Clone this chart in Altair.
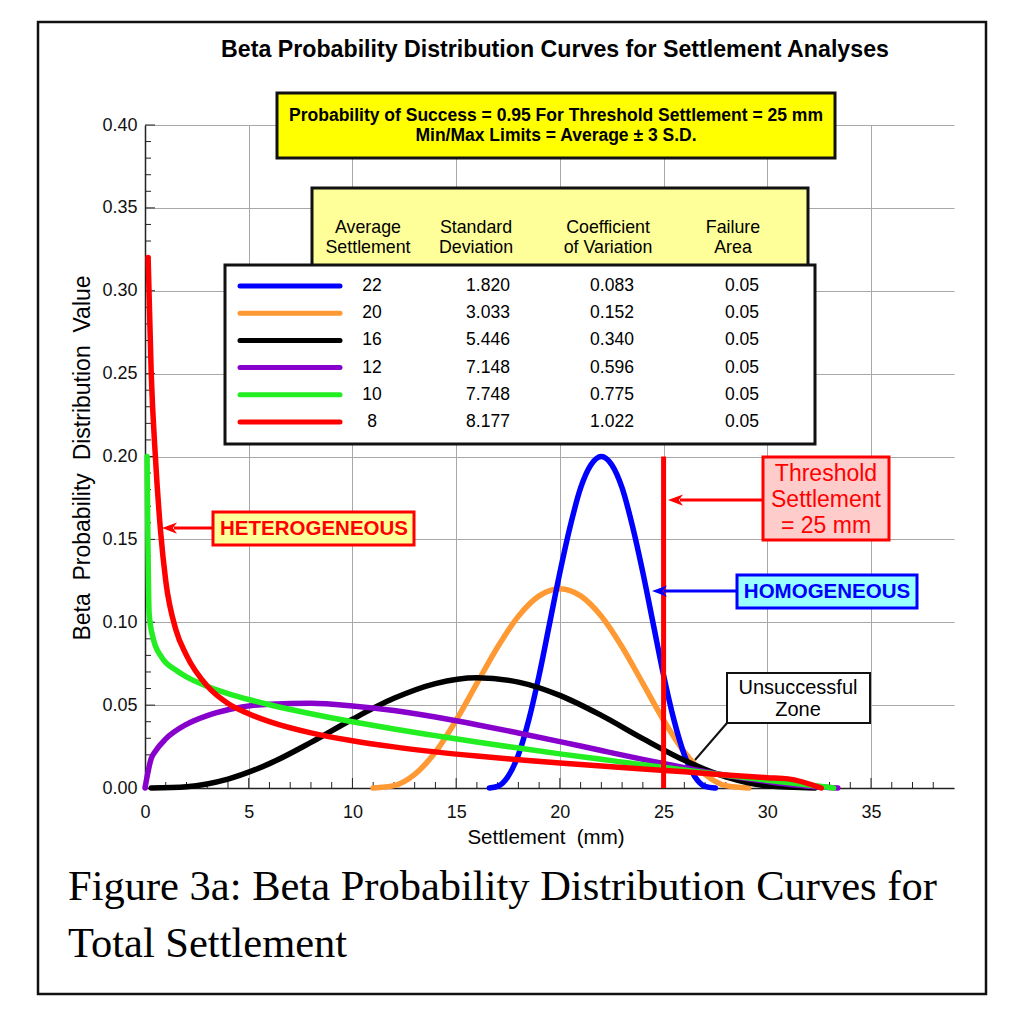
import altair as alt
import pandas as pd

# ---------------- data ----------------
AVG_LABELS = ["22", "20", "16", "12", "10", "8"]
SD_LABELS = ["1.820", "3.033", "5.446", "7.148", "7.748", "8.177"]
COV_LABELS = ["0.083", "0.152", "0.340", "0.596", "0.775", "1.022"]
FAIL_LABELS = ["0.05", "0.05", "0.05", "0.05", "0.05", "0.05"]
SERIES_COLORS = ["#0000FF", "#FF9933", "#000000", "#8800CC", "#22EE22", "#FF0000"]

blue_x = [16.6, 17.0, 17.5, 18.0, 18.5, 19.0, 19.5, 20.0, 20.5, 21.0, 21.5, 22.0,
          22.5, 23.0, 23.5, 24.0, 24.5, 25.0, 25.5, 26.0, 26.5, 27.0, 27.5]
blue_y = [0.000, 0.001, 0.007, 0.020, 0.041, 0.068, 0.099, 0.130, 0.158, 0.181, 0.195, 0.200,
          0.195, 0.181, 0.158, 0.130, 0.099, 0.068, 0.041, 0.020, 0.007, 0.001, 0.000]

orange_x = [11.0, 12, 13, 14, 15, 16, 17, 18, 19, 20, 21, 22, 23, 24, 25, 26, 27, 28, 29.1]
orange_y = [0.000, 0.0014, 0.0082, 0.0217, 0.0409, 0.0631, 0.0851, 0.1036, 0.1159, 0.1202,
            0.1159, 0.1036, 0.0851, 0.0631, 0.0409, 0.0217, 0.0082, 0.0014, 0.000]

black_x = [0.3, 2, 4, 6, 8, 10, 12, 14, 16, 18, 20, 22, 24, 26, 28, 30, 32.3]
black_y = [0.0, 0.0008, 0.0054, 0.0147, 0.0275, 0.0415, 0.0541, 0.0630, 0.0665, 0.0639,
           0.0559, 0.0438, 0.0298, 0.0167, 0.0067, 0.0013, 0.0]

purple_x = [0.0, 0.3, 0.5, 1, 2, 3, 4, 6, 8, 10, 12, 14, 16, 18, 20, 22, 24, 26, 28, 30, 32, 33.4]
purple_y = [0.0, 0.0178, 0.0222, 0.0296, 0.0384, 0.0437, 0.0472, 0.0506, 0.0511, 0.0495,
            0.0467, 0.0428, 0.0382, 0.0332, 0.0280, 0.0226, 0.0173, 0.0123, 0.0077, 0.0039,
            0.0010, 0.0]

green_x = [0.1, 0.2, 0.4, 0.8, 1.5, 2, 3, 4, 5, 6, 8, 10, 12, 14, 16, 18, 20, 22, 24, 26,
           28, 30, 32, 33.2]
green_y = [0.200, 0.105, 0.090, 0.079, 0.071, 0.067, 0.0614, 0.0570, 0.0534, 0.0502, 0.0448,
           0.0400, 0.0356, 0.0316, 0.0277, 0.0241, 0.0206, 0.0173, 0.0140, 0.0108, 0.0077,
           0.0047, 0.0018, 0.0]

red_x = [0.15, 0.3, 0.5, 0.75, 1.0, 1.5, 2, 3, 4, 5, 6, 8, 10, 12, 14, 16, 18, 20, 22, 24,
         26, 28, 30, 31, 32.6]
red_y = [0.320, 0.250, 0.200, 0.155, 0.125, 0.095, 0.080, 0.0615, 0.051, 0.0448, 0.0401,
         0.0333, 0.0285, 0.0248, 0.0218, 0.0193, 0.0171, 0.0151, 0.0133, 0.0115, 0.0098,
         0.0079, 0.0062, 0.0055, 0.0]

CURVES = {
    "22": (blue_x, blue_y),
    "20": (orange_x, orange_y),
    "16": (black_x, black_y),
    "12": (purple_x, purple_y),
    "10": (green_x, green_y),
    "8": (red_x, red_y),
}
DRAW_ORDER = ["20", "22", "16", "12", "10", "8"]

THRESHOLD = 25
THRESHOLD_TOP = 0.20

X_TICKS = [0, 5, 10, 15, 20, 25, 30, 35]
Y_TICKS = [0.0, 0.05, 0.10, 0.15, 0.20, 0.25, 0.30, 0.35, 0.40]
X_MINOR = [v for v in range(1, 39) if v % 5 != 0]
Y_MINOR = [round(v * 0.01, 2) for v in range(1, 40) if v % 5 != 0]

NB = "\u00a0"
TITLE = "Beta Probability Distribution Curves for Settlement Analyses"
BOX1 = "Probability of Success = 0.95 For Threshold Settlement = 25 mm\nMin/Max Limits = Average \u00b1 3 S.D."
HEADERS = ["Average\nSettlement", "Standard\nDeviation", "Coefficient\nof Variation", "Failure\nArea"]
X_TITLE = "Settlement" + NB + " (mm)"
Y_TITLE = "Beta" + NB + " Probability" + NB + " Distribution" + NB + " Value"
CAPTION = "Figure 3a: Beta Probability Distribution Curves for\nTotal Settlement"

# ---------------- layout ----------------
OX, OY = 145, 125          # page position of plot origin
W, H = 809, 663
SANS = "Liberation Sans"
SERIF = "Liberation Serif"

one = pd.DataFrame({"k": [0]})

x_scale = alt.Scale(domain=[0, 39], nice=False, zero=False)
y_scale = alt.Scale(domain=[0, 0.4], nice=False)
x_axis = alt.Axis(values=X_TICKS, format="d", grid=True, ticks=False, labelPadding=15,
                  labelFontSize=18, labelFont=SANS, labelColor="#111", domainColor="#222",
                  domainWidth=1.5, gridColor="#A8A8A8", gridWidth=1, title=None, labelFlush=False)
y_axis = alt.Axis(values=Y_TICKS, format=".2f", grid=True, ticks=False, labelPadding=8,
                  labelFontSize=18, labelFont=SANS, labelColor="#111", domainColor="#222",
                  domainWidth=1.5, gridColor="#A8A8A8", gridWidth=1, title=None, labelFlush=False)


def X(field="x"):
    return alt.X(f"{field}:Q", scale=x_scale, axis=x_axis)


def Y(field="y"):
    return alt.Y(f"{field}:Q", scale=y_scale, axis=y_axis)


def px(v):
    return v - OX


def py(v):
    return v - OY


def rect(x1, y1, x2, y2, fill, stroke, sw, fill_opacity=1.0):
    return alt.Chart(one).mark_rect(fill=fill, fillOpacity=fill_opacity, stroke=stroke,
                                    strokeWidth=sw).encode(
        x=alt.value(px(x1)), x2=alt.value(px(x2)), y=alt.value(py(y1)), y2=alt.value(py(y2)))


def text(x, y, s, size, color="black", weight="normal", font=SANS, align="center",
         line_height=None, angle=0, baseline="middle"):
    # for multi-line text, y is the position of the first line
    kw = dict(fontSize=size, color=color, fontWeight=weight, font=font, align=align,
              baseline=baseline, angle=angle, lineBreak="\n")
    if line_height:
        kw["lineHeight"] = line_height
    return alt.Chart(one).mark_text(**kw).encode(
        x=alt.value(px(x)), y=alt.value(py(y)), text=alt.value(s))


def seg(x1, y1, x2, y2, color, sw, cap="butt"):
    return alt.Chart(one).mark_rule(color=color, strokeWidth=sw, strokeCap=cap).encode(
        x=alt.value(px(x1)), x2=alt.value(px(x2)), y=alt.value(py(y1)), y2=alt.value(py(y2)))


ARROW = "M -1 0 L 1 -0.75 L 0.45 0 L 1 0.75 Z"


def arrow_head(tip_x, y, color, size=15):
    return alt.Chart(one).mark_point(shape=ARROW, filled=True, size=size * size, color=color,
                                     opacity=1, strokeWidth=0).encode(
        x=alt.value(px(tip_x + size / 2)), y=alt.value(py(y)))


layers = []

# minor / major ticks (inward)
xt = pd.DataFrame({"x": X_MINOR})
layers.append(alt.Chart(xt).mark_rule(color="#222", strokeWidth=1).encode(
    x=X(), y=alt.value(H), y2=alt.value(H - 6)))
xt2 = pd.DataFrame({"x": X_TICKS[1:]})
layers.append(alt.Chart(xt2).mark_rule(color="#222", strokeWidth=1).encode(
    x=X(), y=alt.value(H), y2=alt.value(H - 10)))
yt = pd.DataFrame({"y": Y_MINOR})
layers.append(alt.Chart(yt).mark_rule(color="#222", strokeWidth=1).encode(
    y=Y(), x=alt.value(0), x2=alt.value(6)))
yt2 = pd.DataFrame({"y": Y_TICKS[1:]})
layers.append(alt.Chart(yt2).mark_rule(color="#222", strokeWidth=1).encode(
    y=Y(), x=alt.value(0), x2=alt.value(10)))

# curves
color_scale = alt.Scale(domain=AVG_LABELS, range=SERIES_COLORS)
for name in DRAW_ORDER:
    xs, ys = CURVES[name]
    df = pd.DataFrame({"x": xs, "y": ys, "series": name})
    layers.append(alt.Chart(df).mark_line(strokeWidth=5.5, interpolate="monotone",
                                          strokeCap="round", strokeJoin="round").encode(
        x=X(), y=Y(), color=alt.Color("series:N", scale=color_scale, legend=None)))

# threshold line
thr = pd.DataFrame({"x": [THRESHOLD], "y": [0.0], "y2": [THRESHOLD_TOP]})
layers.append(alt.Chart(thr).mark_rule(color="#FF0000", strokeWidth=5).encode(
    x=X(), y=Y(), y2="y2:Q"))

# outer figure border
layers.append(rect(38, 22, 986, 994, "white", "#111", 2.5, fill_opacity=0))

# title
layers.append(text(555, 50, TITLE, 23.2, weight="bold"))

# yellow info box
layers.append(rect(277, 93, 835, 158, "#FFFF00", "#111", 3))
layers.append(text(556, 116, BOX1, 17.5, weight="bold", line_height=20))

# table header box
layers.append(rect(312, 188, 808, 266, "#FFFF99", "#111", 3))
HEAD_X = [368, 476, 608, 733]
for hx, h in zip(HEAD_X, HEADERS):
    layers.append(text(hx, 228, h, 17.8, line_height=19.5))

# legend table box
layers.append(rect(225, 265, 815, 444, "white", "#111", 3))
ROW_Y0, ROW_DY = 286, 27.2
for i, col in enumerate(SERIES_COLORS):
    yy = ROW_Y0 + i * ROW_DY
    layers.append(seg(240, yy, 340, yy, col, 5, cap="round"))
COL_X = [372, 488, 612, 742]
for cx, vals in zip(COL_X, [AVG_LABELS, SD_LABELS, COV_LABELS, FAIL_LABELS]):
    layers.append(text(cx, ROW_Y0, "\n".join(vals), 17.5, line_height=ROW_DY))

# threshold annotation
layers.append(seg(763, 500, 680, 500, "#FF0000", 3))
layers.append(arrow_head(668, 500, "#FF0000"))
layers.append(rect(763, 457, 889, 540, "#FFCCCC", "#FF0000", 3))
layers.append(text(826, 474, "Threshold\nSettlement\n= 25 mm", 23, color="#FF0000",
                   line_height=26))

# homogeneous annotation
layers.append(seg(737, 591, 664, 591, "#0000FF", 3))
layers.append(arrow_head(652, 591, "#0000FF"))
layers.append(rect(737, 575, 917, 608, "#99FFFF", "#0000FF", 3))
layers.append(text(827, 592, "HOMOGENEOUS", 20.5, color="#0000FF", weight="bold"))

# heterogeneous annotation
layers.append(seg(213, 528, 174, 528, "#FF0000", 3))
layers.append(arrow_head(162, 528, "#FF0000"))
layers.append(rect(213, 512, 414, 545, "#FFFF99", "#FF0000", 3))
layers.append(text(314, 529, "HETEROGENEOUS", 20.5, color="#FF0000", weight="bold"))

# unsuccessful zone
layers.append(seg(727, 723, 695, 760, "#111", 2))
layers.append(rect(727, 673, 870, 723, "white", "#111", 2))
layers.append(text(798, 688, "Unsuccessful\nZone", 20, line_height=22))

# axis titles
layers.append(text(546, 838, X_TITLE, 20.5))
layers.append(text(83, 458, Y_TITLE, 23, angle=270))

# caption
layers.append(text(68, 887, CAPTION, 42.5, font=SERIF, align="left", line_height=57))

chart = alt.layer(*layers).properties(
    width=W, height=H,
    autosize=alt.AutoSizeParams(type="none"),
    padding={"left": OX - 8, "top": OY - 8, "right": 40, "bottom": 230},
    background="white",
).configure_view(strokeWidth=0)

chart.save("out.html", embed_options={"renderer": "svg", "actions": False})
